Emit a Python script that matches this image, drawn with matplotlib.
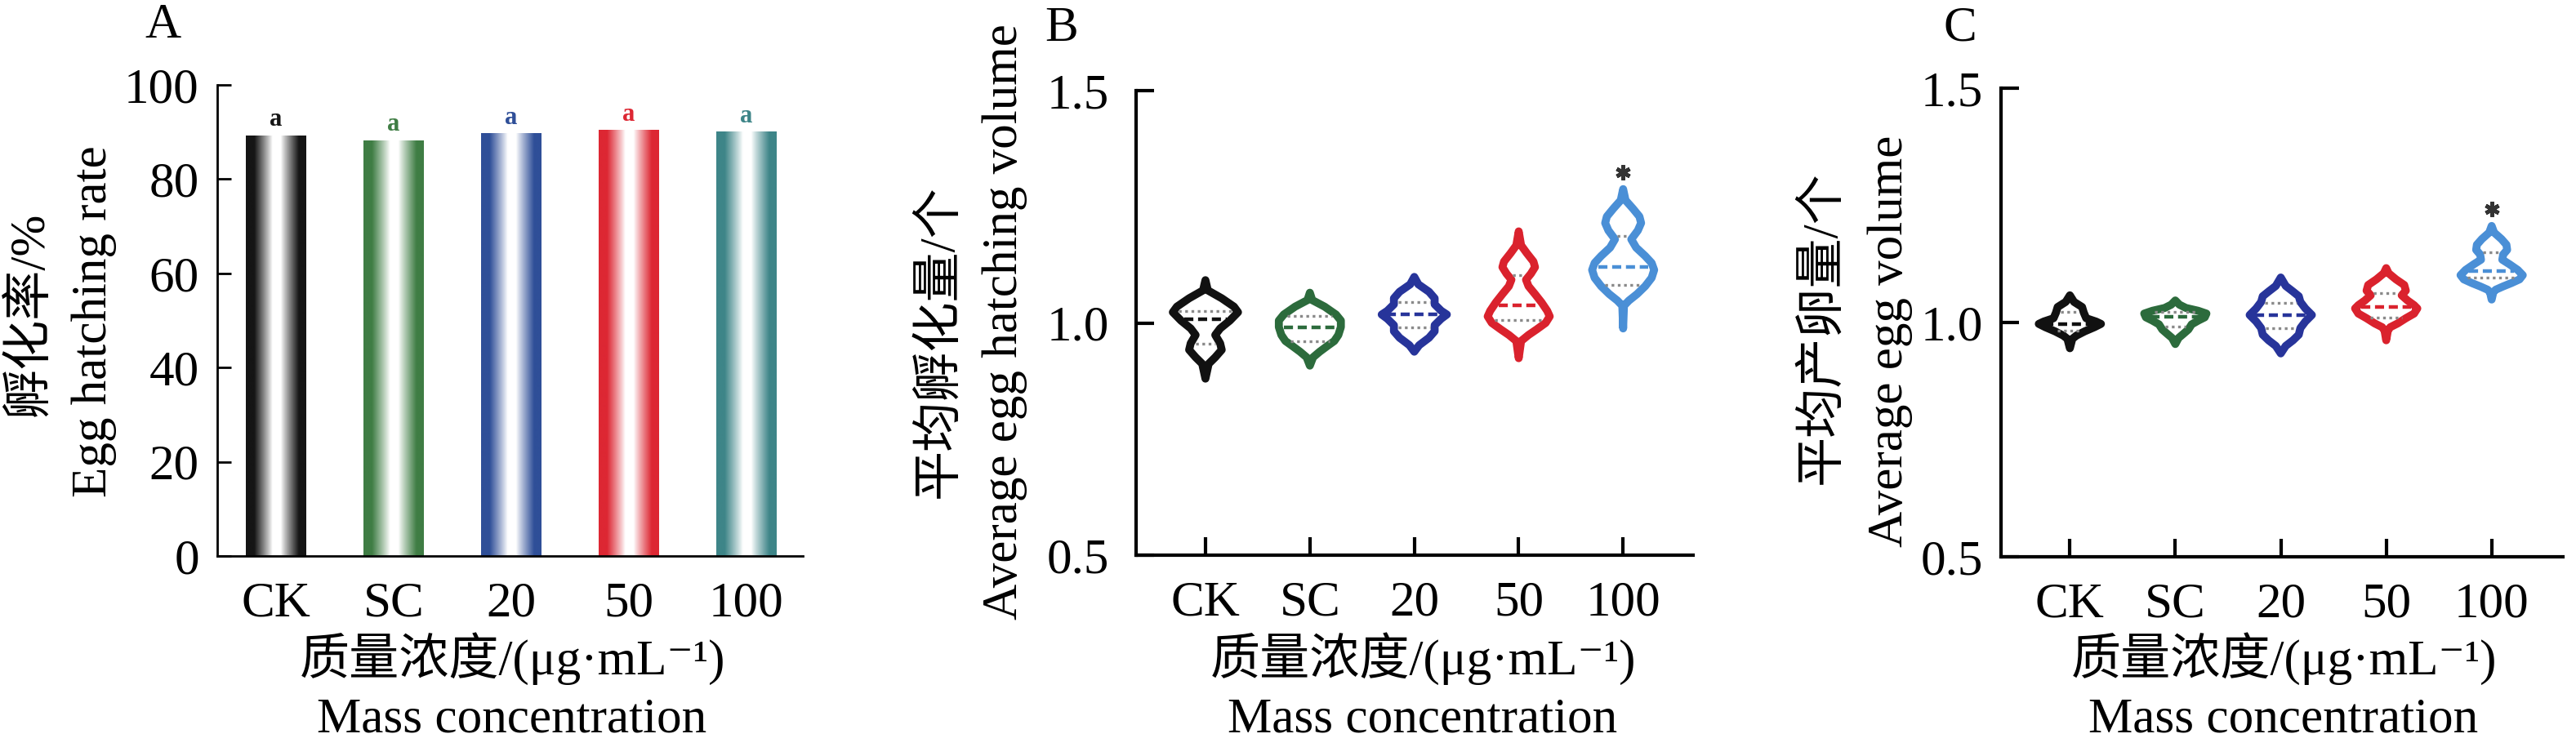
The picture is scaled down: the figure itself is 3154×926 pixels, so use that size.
import numpy as np
import matplotlib
matplotlib.use('Agg')
import matplotlib.pyplot as plt
from matplotlib.colors import to_rgb

plt.rcParams['font.family'] = ['Liberation Serif', 'Noto Sans CJK SC', 'DejaVu Sans']
plt.rcParams['font.size'] = 44

W, H = 3154, 926

groups = ['CK', 'SC', '20', '50', '100']
bar_colors = ['#151515', '#3f7d44', '#2f4f98', '#dd2733', '#3e8588']
violin_colors = ['#111111', '#2c6b3c', '#27349a', '#da222d', '#4a8fd6']

# A: egg hatching rate (%)
hatch_rate = [89.3, 88.2, 89.7, 90.4, 90.1]
rate_letters = ['a', 'a', 'a', 'a', 'a']

# B: average egg hatching volume, violin outlines (value from top to bottom, half width)
b_prof_y = [
    [1.092, 1.070, 1.053, 1.035, 1.023, 1.005, 0.988, 0.974, 0.956, 0.942, 0.926, 0.912, 0.880],
    [1.065, 1.049, 1.035, 1.018, 1.005, 0.991, 0.974, 0.961, 0.951, 0.938, 0.926, 0.908],
    [1.099, 1.083, 1.067, 1.053, 1.040, 1.026, 1.018, 1.009, 0.995, 0.982, 0.968, 0.952, 0.938],
    [1.197, 1.167, 1.150, 1.132, 1.120, 1.106, 1.093, 1.079, 1.062, 1.044, 1.026, 1.014, 1.000,
     0.986, 0.974, 0.961, 0.924],
    [1.288, 1.264, 1.246, 1.229, 1.215, 1.199, 1.180, 1.162, 1.144, 1.129, 1.114, 1.097, 1.079,
     1.062, 1.048, 1.037, 0.988],
]
b_prof_w = [
    [0, 0.023, 0.156, 0.273, 0.312, 0.234, 0.141, 0.094, 0.141, 0.156, 0.094, 0.031, 0],
    [0, 0.023, 0.141, 0.250, 0.297, 0.297, 0.273, 0.234, 0.172, 0.094, 0.031, 0],
    [0, 0.039, 0.141, 0.195, 0.195, 0.258, 0.312, 0.258, 0.195, 0.195, 0.141, 0.047, 0],
    [0, 0.023, 0.078, 0.141, 0.156, 0.117, 0.070, 0.094, 0.156, 0.219, 0.273, 0.297, 0.258,
     0.172, 0.094, 0.023, 0],
    [0, 0.023, 0.094, 0.156, 0.172, 0.141, 0.078, 0.125, 0.211, 0.273, 0.297, 0.273, 0.211,
     0.133, 0.055, 0.008, 0],
]
b_quart = [[0.956, 1.008, 1.026], [0.961, 0.990, 1.015], [0.991, 1.019, 1.044],
           [1.006, 1.037, 1.103], [1.082, 1.121, 1.188]]
b_star = [None, None, None, None, 1.325]

# C: average egg volume
c_prof_y = [
    [1.058, 1.044, 1.033, 1.021, 1.009, 1.002, 0.997, 0.990, 0.981, 0.972, 0.965, 0.945],
    [1.047, 1.038, 1.031, 1.025, 1.019, 1.011, 1.004, 0.996, 0.985, 0.976, 0.967, 0.954],
    [1.096, 1.078, 1.066, 1.056, 1.044, 1.030, 1.016, 1.002, 0.988, 0.974, 0.962, 0.950, 0.934],
    [1.116, 1.105, 1.092, 1.080, 1.068, 1.058, 1.047, 1.037, 1.030, 1.019, 1.009, 0.998, 0.990,
     0.983, 0.962],
    [1.206, 1.192, 1.178, 1.166, 1.155, 1.145, 1.134, 1.124, 1.112, 1.101, 1.092, 1.084, 1.077,
     1.070, 1.065, 1.049],
]
c_prof_w = [
    [0, 0.039, 0.116, 0.132, 0.155, 0.248, 0.295, 0.233, 0.140, 0.062, 0.023, 0],
    [0, 0.039, 0.101, 0.217, 0.295, 0.279, 0.217, 0.155, 0.124, 0.078, 0.031, 0],
    [0, 0.047, 0.116, 0.171, 0.186, 0.233, 0.295, 0.233, 0.186, 0.171, 0.116, 0.047, 0],
    [0, 0.023, 0.093, 0.171, 0.186, 0.147, 0.202, 0.264, 0.295, 0.264, 0.186, 0.109, 0.039,
     0.016, 0],
    [0, 0.023, 0.093, 0.140, 0.147, 0.109, 0.101, 0.171, 0.248, 0.295, 0.264, 0.186, 0.109,
     0.039, 0.016, 0],
]
c_quart = [[0.983, 0.996, 1.023], [0.991, 1.012, 1.023], [0.988, 1.015, 1.041],
           [1.010, 1.033, 1.063], [1.095, 1.110, 1.149]]
c_star = [None, None, None, None, 1.242]

xlabel_cn = '质量浓度/(μg·mL⁻¹)'
xlabel_en = 'Mass concentration'


def px_axes(l, t, r, b):
    return [l / W, 1 - b / H, (r - l) / W, (b - t) / H]


def ftext(x, y, s, **kw):
    fig.text(x / W, 1 - y / H, s, ha='center', va='center', **kw)


def draw_violins(ax, prof_y, prof_w, quarts, stars):
    pos = np.arange(1, len(groups) + 1)
    for i in range(len(groups)):
        ys = np.array(prof_y[i])
        ws = np.array(prof_w[i])
        xs = np.concatenate([pos[i] + ws, (pos[i] - ws)[::-1]])
        yy = np.concatenate([ys, ys[::-1]])
        ax.fill(xs, yy, facecolor='white', edgecolor=violin_colors[i], lw=7,
                joinstyle='round', capstyle='round', zorder=3)
        q1, med, q3 = quarts[i]
        for q, kind in [(q1, 'q'), (med, 'm'), (q3, 'q')]:
            w = np.interp(q, ys[::-1], ws[::-1]) - 0.045
            if w <= 0:
                continue
            if kind == 'm':
                ax.plot([pos[i] - w, pos[i] + w], [q, q], color=violin_colors[i], lw=3.2,
                        dashes=(2.5, 1.3), zorder=4)
            else:
                ax.plot([pos[i] - w, pos[i] + w], [q, q], color='#8a8a8a', lw=2.4,
                        dashes=(1, 1.3), zorder=4)
        if stars[i] is not None:
            ax.plot(pos[i], stars[i], marker=(6, 2, 0), ms=13, mew=3.4, color='#333333',
                    zorder=5)


fig = plt.figure(figsize=(W / 100, H / 100), dpi=100)

# ---- A: bar chart with gradient fill
axA = fig.add_axes(px_axes(266, 104, 983, 681))
pos = np.arange(1, len(groups) + 1)
u = np.linspace(0, 1, 256)
f = np.clip((np.abs(u - 0.51) - 0.07) / 0.30, 0, 1) ** 0.9
for i, v in enumerate(hatch_rate):
    bar = axA.bar(pos[i], v, width=0.51, color='none', edgecolor='none')[0]
    col = np.array(to_rgb(bar_colors[i]))
    grad = (1 - f)[:, None] * np.ones(3) + f[:, None] * col
    im = axA.imshow(grad[None, :, :], extent=(pos[i] - 0.255, pos[i] + 0.255, 0, v),
                    aspect='auto', zorder=2, interpolation='bilinear')
    im.set_clip_path(bar)
    axA.text(pos[i], v + 0.8, rate_letters[i], ha='center', va='bottom', fontsize=22,
             fontweight='bold', color=bar_colors[i])
axA.set_xlim(0.5, 5.48)
axA.set_ylim(0, 100)
axA.set_yticks([0, 20, 40, 60, 80, 100])
axA.set_xticks(pos)
axA.set_xticklabels(groups)
for s in ['top', 'right']:
    axA.spines[s].set_visible(False)
for s in ['left', 'bottom']:
    axA.spines[s].set_linewidth(2)
axA.tick_params(axis='y', direction='in', length=12, width=2, pad=16)
axA.tick_params(axis='x', length=0, pad=22)

# ---- B and C: violins
axB = fig.add_axes(px_axes(1391, 111, 2073, 680))
draw_violins(axB, b_prof_y, b_prof_w, b_quart, b_star)
axB.set_xlim(0.336, 5.67)

axC = fig.add_axes(px_axes(2450, 108, 3138, 682))
draw_violins(axC, c_prof_y, c_prof_w, c_quart, c_star)
axC.set_xlim(0.347, 5.676)

for ax, ypad in [(axB, 24), (axC, 16)]:
    ax.set_ylim(0.5, 1.5)
    ax.set_yticks([0.5, 1.0, 1.5])
    ax.set_yticklabels(['0.5', '1.0', '1.5'])
    ax.set_xticks(pos)
    ax.set_xticklabels(groups)
    for s in ['top', 'right']:
        ax.spines[s].set_visible(False)
    for s in ['left', 'bottom']:
        ax.spines[s].set_linewidth(3)
    ax.tick_params(axis='y', direction='in', length=16, width=3, pad=ypad)
    ax.tick_params(axis='x', direction='in', length=16, width=3, pad=22)

# ---- labels
ftext(200, 31, 'A')
ftext(1300, 35, 'B')
ftext(2400, 35, 'C')

ftext(37, 384, '孵化率/%', rotation=90)
ftext(115, 394, 'Egg hatching rate', rotation=90)
ftext(1150, 418, '平均孵化量/个', rotation=90)
ftext(1230, 394, 'Average egg hatching volume', rotation=90)
ftext(2231, 401, '平均产卵量/个', rotation=90)
ftext(2314, 418, 'Average egg volume', rotation=90)

for cx in [627, 1742, 2796]:
    ftext(cx, 807, xlabel_cn)
    ftext(cx, 882, xlabel_en)

fig.savefig('out.png', dpi=100)
